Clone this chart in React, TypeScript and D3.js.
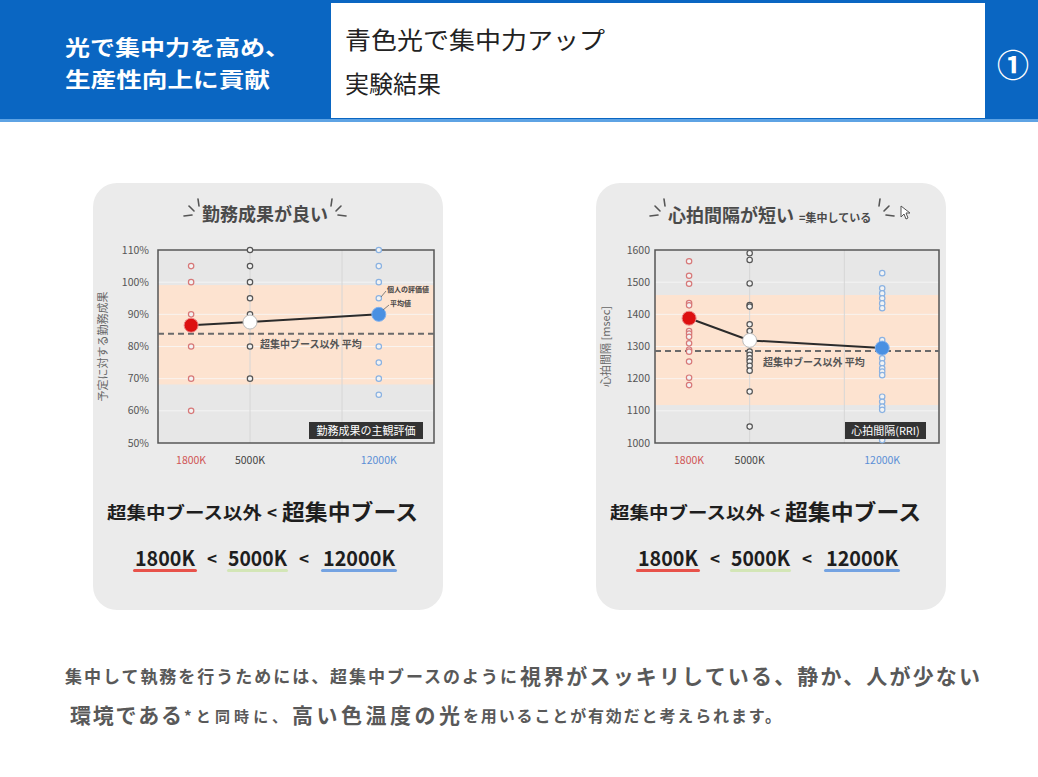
import React from 'react';
import * as d3 from 'd3';

// ---------- data ----------
const TEMPS = [1800, 5000, 12000];
const TEMP_LABELS = ['1800K', '5000K', '12000K'];

const PERF_1800 = [105, 100, 90, 80, 70, 60];
const PERF_5000 = [110, 105, 100, 95, 90, 80, 70];
const PERF_12000 = [110, 105, 100, 95, 80, 75, 70, 65];
const PERF_MEANS = [86.6, 87.6, 90.0];
const PERF_BASELINE = 84;
const PERF_BAND = [68.2, 99.1];
const PERF_TICKS = [50, 60, 70, 80, 90, 100, 110];

const RRI_1800 = [1565, 1520, 1495, 1435, 1428, 1348, 1340, 1330, 1310, 1290, 1284, 1253, 1203, 1180];
const RRI_5000 = [1590, 1569, 1496, 1429, 1424, 1369, 1348, 1330, 1284, 1274, 1263, 1253, 1240, 1225, 1160, 1051];
const RRI_12000 = [1528, 1481, 1465, 1450, 1434, 1419, 1320, 1300, 1263, 1248, 1232, 1222, 1211, 1144, 1128, 1113, 1103, 1009];
const RRI_MEANS = [1388, 1319, 1295];
const RRI_BASELINE = 1286;
const RRI_BAND = [1118, 1460];
const RRI_TICKS = [1000, 1100, 1200, 1300, 1400, 1500, 1600];

const X_GRID = [5000, 10000];

// ---------- style ----------
const FONT = "'Noto Sans CJK JP', 'Noto Sans', sans-serif";
const PT_STROKE = ['#d77878', '#555555', '#8ab2e2'];
const MEAN_FILL = ['#dd1010', '#ffffff', '#4a90e2'];
const MEAN_STROKE = ['#ea8a8a', '#bbbbbb', '#7fb0ee'];
const LABEL_COLOR = ['#d05555', '#444444', '#5b8fd6'];

type ChartProps = {
  px0: number; px1: number; py0: number; py1: number;
  yDomain: [number, number];
  ticks: number[];
  fmt: (v: number) => string;
  tickGap: number;
  individuals: number[][];
  means: number[];
  baseline: number;
  band: number[];
  yTitle: string;
  yTitleX: number;
  tag: string;
  tagX0: number; tagX1: number;
  baseLabelX: number; baseLabelY: number;
  annot?: boolean;
};

function Chart(p: ChartProps) {
  const x = d3.scaleLinear().domain([0, 15000]).range([p.px0, p.px1]);
  const y = d3.scaleLinear().domain(p.yDomain).range([p.py0, p.py1]);
  const line = d3.line<number>().x((_, i) => x(TEMPS[i])).y((d) => y(d));
  const midY = (p.py0 + p.py1) / 2;
  return (
    <g fontFamily={FONT}>
      <rect x={p.px0} y={p.py1} width={p.px1 - p.px0} height={p.py0 - p.py1} fill="#e7e7e7" />
      <rect x={p.px0} y={y(p.band[1])} width={p.px1 - p.px0} height={y(p.band[0]) - y(p.band[1])} fill="#fde3d0" />
      {p.ticks.map((t) => (
        <line key={'g' + t} x1={p.px0} x2={p.px1} y1={y(t)} y2={y(t)} stroke="#f7f7f7" strokeOpacity={0.8} strokeWidth={1} />
      ))}
      {X_GRID.map((g) => (
        <line key={'v' + g} x1={x(g)} x2={x(g)} y1={p.py1} y2={p.py0} stroke="#d6d6d6" strokeWidth={1} />
      ))}
      <rect x={p.px0} y={p.py1} width={p.px1 - p.px0} height={p.py0 - p.py1} fill="none" stroke="#555" strokeWidth={1.5} />
      {p.ticks.map((t) => (
        <text key={'t' + t} x={p.px0 - p.tickGap} y={y(t) + 3.5} fontSize={10.5} fill="#555" textAnchor="end">{p.fmt(t)}</text>
      ))}
      <text transform={`translate(${p.yTitleX},${midY}) rotate(-90)`} fontSize={11} fill="#666" textAnchor="middle">{p.yTitle}</text>
      <line x1={p.px0} x2={p.px1} y1={y(p.baseline)} y2={y(p.baseline)} stroke="#6a6a6a" strokeWidth={2} strokeDasharray="6,4" />
      <text x={p.baseLabelX} y={p.baseLabelY} fontSize={10} fontWeight={700} fill="#555">超集中ブース以外  平均</text>
      {p.individuals.map((vals, i) =>
        vals.map((v, j) => (
          <circle key={`p${i}-${j}`} cx={x(TEMPS[i])} cy={y(v)} r={2.7} fill="#f3f3f3" stroke={PT_STROKE[i]} strokeWidth={1.2} />
        ))
      )}
      <path d={line(p.means) || ''} fill="none" stroke="#2b2b2b" strokeWidth={2} />
      {p.means.map((m, i) => (
        <circle key={'m' + i} cx={x(TEMPS[i])} cy={y(m)} r={7} fill={MEAN_FILL[i]} stroke={MEAN_STROKE[i]} strokeWidth={1} />
      ))}
      {TEMP_LABELS.map((l, i) => (
        <text key={'x' + i} x={x(TEMPS[i])} y={464} fontSize={10.5} fill={LABEL_COLOR[i]} textAnchor="middle">{l}</text>
      ))}
      <rect x={p.tagX0} y={422} width={p.tagX1 - p.tagX0} height={17} fill="#333" />
      <text x={(p.tagX0 + p.tagX1) / 2} y={434.5} fontSize={11} fill="#fff" textAnchor="middle">{p.tag}</text>
      {p.annot && (
        <g>
          <text x={387} y={292} fontSize={7} fontWeight={700} fill="#444">個人の評価値</text>
          <text x={390} y={306} fontSize={7} fontWeight={700} fill="#444">平均値</text>
          <line x1={386} y1={291} x2={381} y2={297} stroke="#666" strokeWidth={0.8} />
          <line x1={389} y1={305} x2={383} y2={310} stroke="#666" strokeWidth={0.8} />
        </g>
      )}
    </g>
  );
}

function Deco({ cx, w }: { cx: number; w: number }) {
  const l = cx - w / 2;
  const r = cx + w / 2;
  return (
    <g stroke="#555" strokeWidth={1.6} strokeLinecap="round">
      <line x1={l - 17} y1={216} x2={l - 9} y2={215} />
      <line x1={l - 12} y1={206} x2={l - 7} y2={211} />
      <line x1={l - 3} y1={199} x2={l - 2} y2={206} />
      <line x1={r + 3} y1={199} x2={r + 2} y2={206} />
      <line x1={r + 12} y1={206} x2={r + 7} y2={211} />
      <line x1={r + 17} y1={216} x2={r + 9} y2={215} />
    </g>
  );
}

function Summary({ cx }: { cx: number }) {
  return (
    <g fontFamily={FONT} fill="#1e1e1e">
      <text x={cx - 161} y={519} fontSize={17} fontWeight={700} textLength={155} lengthAdjust="spacingAndGlyphs">超集中ブース以外</text>
      <text x={cx + 4} y={519} fontSize={17} fontWeight={700} textAnchor="middle">&lt;</text>
      <text x={cx + 14} y={520} fontSize={22} fontWeight={700} textLength={136} lengthAdjust="spacingAndGlyphs">超集中ブース</text>
      <text x={cx - 133} y={566} fontSize={21} fontWeight={700} textLength={60} lengthAdjust="spacingAndGlyphs">1800K</text>
      <text x={cx - 56} y={565} fontSize={17} fontWeight={700} textAnchor="middle">&lt;</text>
      <text x={cx - 40} y={566} fontSize={21} fontWeight={700} textLength={59} lengthAdjust="spacingAndGlyphs">5000K</text>
      <text x={cx + 36} y={565} fontSize={17} fontWeight={700} textAnchor="middle">&lt;</text>
      <text x={cx + 55} y={566} fontSize={21} fontWeight={700} textLength={72} lengthAdjust="spacingAndGlyphs">12000K</text>
      <rect x={cx - 135} y={569} width={64} height={3} rx={1.5} fill="#e8524a" />
      <rect x={cx - 41} y={569} width={61} height={3} rx={1.5} fill="#d3e6b6" />
      <rect x={cx + 53} y={569} width={76} height={3} rx={1.5} fill="#74a3e2" />
    </g>
  );
}

export default function App() {
  return (
    <svg width={1038} height={777} style={{ position: 'absolute', left: 0, top: 0, background: '#fff' }} fontFamily={FONT}>
      {/* header */}
      <rect x={0} y={0} width={1038} height={121} fill="#0a66c2" />
      <rect x={0} y={119} width={1038} height={3} fill="#5ea3e4" />
      <rect x={331} y={3} width={654} height={115} fill="#fff" />
      <text x={65} y={55} fontSize={21} fontWeight={700} fill="#fff" textLength={225} lengthAdjust="spacingAndGlyphs">光で集中力を高め、</text>
      <text x={65} y={87} fontSize={21} fontWeight={700} fill="#fff" textLength={205} lengthAdjust="spacingAndGlyphs">生産性向上に貢献</text>
      <text x={345} y={49} fontSize={24} fill="#222" textLength={260} lengthAdjust="spacingAndGlyphs">青色光で集中力アップ</text>
      <text x={345} y={93} fontSize={24} fill="#222">実験結果</text>
      <text x={1013} y={77} fontSize={32} fontWeight={700} fill="#fff" textAnchor="middle">①</text>

      {/* panels */}
      <rect x={93} y={183} width={350} height={427} rx={24} fill="#ebebeb" />
      <rect x={596} y={183} width={350} height={427} rx={24} fill="#ebebeb" />

      {/* titles */}
      <text x={265} y={221} fontSize={18} fontWeight={700} fill="#4a4a4a" textAnchor="middle">勤務成果が良い</text>
      <Deco cx={265} w={128} />
      <text x={668} y={222} fontSize={18} fontWeight={700} fill="#4a4a4a">心拍間隔が短い</text>
      <text x={799} y={222} fontSize={11} fontWeight={700} fill="#4a4a4a">=集中している</text>
      <Deco cx={772} w={210} />
      <path d="M901,206 L901,217 L904,214 L906,219 L908,218 L906,213 L910,213 Z" fill="#fff" stroke="#555" strokeWidth={1} />

      <Chart
        px0={158} px1={434} py0={443} py1={250}
        yDomain={[50, 110]} ticks={PERF_TICKS} fmt={(v) => v + '%'} tickGap={9}
        individuals={[PERF_1800, PERF_5000, PERF_12000]}
        means={PERF_MEANS} baseline={PERF_BASELINE} band={PERF_BAND}
        yTitle="予定に対する勤務成果" yTitleX={107}
        tag="勤務成果の主観評価" tagX0={309} tagX1={423}
        baseLabelX={260} baseLabelY={348} annot
      />
      <Chart
        px0={655} px1={939} py0={443} py1={250}
        yDomain={[1000, 1600]} ticks={RRI_TICKS} fmt={(v) => String(v)} tickGap={5}
        individuals={[RRI_1800, RRI_5000, RRI_12000]}
        means={RRI_MEANS} baseline={RRI_BASELINE} band={RRI_BAND}
        yTitle="心拍間隔 [msec]" yTitleX={610}
        tag="心拍間隔(RRI)" tagX0={845} tagX1={926}
        baseLabelX={763} baseLabelY={366}
      />

      <Summary cx={268} />
      <Summary cx={771} />

      {/* bottom paragraph */}
      <g fontFamily={FONT} fontWeight={700} fill="#595959">
        <text x={65} y={683} fontSize={17} textLength={452} lengthAdjust="spacing">集中して執務を行うためには、超集中ブースのように</text>
        <text x={520} y={684} fontSize={21} textLength={460} lengthAdjust="spacing">視界がスッキリしている、静か、人が少ない</text>
        <text x={70} y={723} fontSize={21} textLength={112} lengthAdjust="spacing">環境である</text>
        <text x={184} y={722} fontSize={15} textLength={103} lengthAdjust="spacing">*と同時に、</text>
        <text x={292} y={723} fontSize={21} textLength={168} lengthAdjust="spacing">高い色温度の光</text>
        <text x={463} y={722} fontSize={16} textLength={318} lengthAdjust="spacing">を用いることが有効だと考えられます。</text>
      </g>
    </svg>
  );
}
